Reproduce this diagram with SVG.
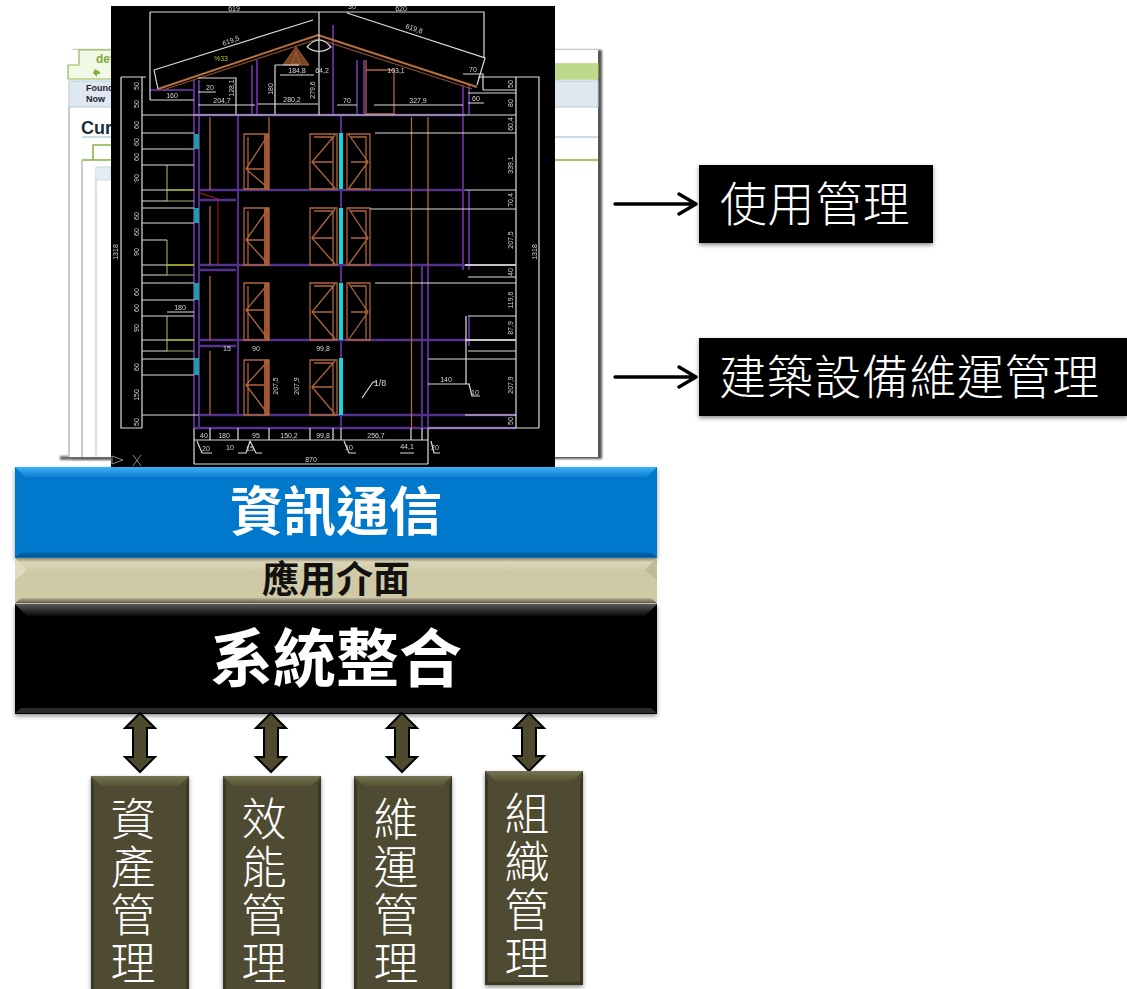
<svg xmlns="http://www.w3.org/2000/svg" width="1127" height="989" viewBox="0 0 1127 989">
<style>
text{font-family:"Noto Sans CJK TC","Noto Sans CJK SC",sans-serif}
.wl{font-size:47px;font-weight:300;fill:#fff;letter-spacing:.6px}
.vt{font-size:45px;font-weight:300;fill:#fff;writing-mode:vertical-rl;letter-spacing:3px}
.bt{font-weight:700;text-anchor:middle}
.d{font-family:"Liberation Sans",sans-serif;font-size:7px;fill:#d8d8d8;text-anchor:middle}
.wh{fill:none;stroke:#dcdcdc;stroke-width:1.2}
.pu{fill:none;stroke:#5c2a8e;stroke-width:2}
.br{fill:none;stroke:#b0653c;stroke-width:1.3}
.ye{fill:none;stroke:#a9a96a;stroke-width:1.1}
.arrow{fill:#4d4a2e;stroke:#000;stroke-width:2}
.arr2{fill:none;stroke:#000;stroke-width:3.4;stroke-linecap:round;stroke-linejoin:round}
.box{fill:#4f4c30}
.edge{fill:#3a3822}
.top{fill:url(#oT)}
</style>
<defs>
<filter id="sh" x="-5%" y="-5%" width="110%" height="112%"><feDropShadow dx="0" dy="2" stdDeviation="2" flood-color="#000" flood-opacity=".45"/></filter>
<filter id="bl" x="0" y="0" width="100%" height="100%"><feGaussianBlur stdDeviation=".4"/></filter>
<filter id="b2" x="-20%" y="-100%" width="140%" height="300%"><feGaussianBlur stdDeviation="1.2"/></filter>
<linearGradient id="bT" x1="0" y1="0" x2="0" y2="1"><stop offset="0" stop-color="#3fb0f5"/><stop offset="1" stop-color="#0f80d2"/></linearGradient>
<linearGradient id="bB" x1="0" y1="0" x2="0" y2="1"><stop offset="0" stop-color="#0670bd"/><stop offset="1" stop-color="#044e86"/></linearGradient>
<linearGradient id="tT" x1="0" y1="0" x2="0" y2="1"><stop offset="0" stop-color="#8f8a70"/><stop offset=".35" stop-color="#dcd6b8"/><stop offset="1" stop-color="#d2cca9"/></linearGradient>
<linearGradient id="tB" x1="0" y1="0" x2="0" y2="1"><stop offset="0" stop-color="#bab49a"/><stop offset="1" stop-color="#5f5b48"/></linearGradient>
<linearGradient id="kT" x1="0" y1="0" x2="0" y2="1"><stop offset="0" stop-color="#5a5a5a"/><stop offset="1" stop-color="#080808"/></linearGradient>
<linearGradient id="oT" x1="0" y1="0" x2="0" y2="1"><stop offset="0" stop-color="#777556"/><stop offset="1" stop-color="#55522f"/></linearGradient>
</defs>
<rect width="1127" height="989" fill="#fff"/>

<g id="screenshot">
<rect x="72" y="50" width="530" height="409" fill="#555" filter="url(#b2)"/>
<rect x="60" y="456" width="60" height="4" fill="#666" filter="url(#b2)"/>
<rect x="68" y="50" width="530" height="407" fill="#fff"/>
<path d="M68 79V65H79V50H150V64H598V79Z" fill="#f2f7e6" stroke="#8fbb4a" stroke-width="1.2"/>
<rect x="111" y="64" width="487" height="15" fill="#bcd98c"/>
<rect x="69" y="81" width="529" height="26" fill="#dfe7f0" stroke="#b4cbdc" stroke-width="1"/>
<path d="M95 69l5 3v2h-3v3l-4-4z" fill="#7fb13c"/>
<text x="86" y="91" font-size="9" font-weight="700" fill="#223" style="font-family:'Liberation Sans',sans-serif">Found</text>
<text x="86" y="102" font-size="9" font-weight="700" fill="#223" style="font-family:'Liberation Sans',sans-serif">Now</text>
<text x="96" y="63" font-size="12" font-weight="700" fill="#7fa83c" style="font-family:'Liberation Sans',sans-serif">det</text>
<text x="81" y="134" font-size="18" font-weight="700" fill="#1c2c3c" style="font-family:'Liberation Sans',sans-serif">Cur</text>
<path d="M82 137H598" stroke="#b9d0df" stroke-width="1.5"/>
<path d="M93 160V145H111M82 160H598" fill="none" stroke="#86b340" stroke-width="1.5"/>
<path d="M69 107V457M82 160V457" stroke="#bbb" stroke-width="1.5"/>
<path d="M96 167V457" stroke="#c5d8e6" stroke-width="1.5"/>
<path d="M96 167H111V180H96" fill="#e4ecf4" stroke="#c5d8e6"/>
</g>

<g id="blueprint" filter="url(#bl)">
<rect x="111" y="6" width="444" height="461" fill="#000"/>
<path class="pu" d="M194 80V428M199 80V428M238 115V415M257 60V115M252 65V115M333 25V115M341 115V428M357 60V115M364 60V115M463 85V270M469 85V115M469 190V270M469 316V346M422 265V428M428 265V428M150 90H194"/>
<path d="M195 115H465M199 190H465M199 200H236M199 265H465M199 270H236M199 340H470M199 346H236M199 415H516M195 428H516" fill="none" stroke="#52308e" stroke-width="2.4"/>
<path class="br" d="M210 117V190M210 206V265M210 276V340M210 351V415M269 117V133M411.500 117V428M428 117V265M366 60V114H394V70H366"/>
<path d="M158 89L318 35L477 87" fill="none" stroke="#b8703e" stroke-width="2"/>
<path d="M163 90L318 39L472 89" fill="none" stroke="#8a4c2a" stroke-width="1.2"/>
<path d="M283 65L296 47L309 65ZM292 64L296 52L300 64Z" fill="#7a4424" stroke="#a8603a" stroke-width="1"/>
<path class="wh" d="M307 47Q319 33 331 47Q319 56 307 47" stroke-width=".8"/>
<g id="win">
<path d="M264 134h5v55h-5zM264 208h5v57h-5zM264 283h5v57h-5zM264 360h5v55h-5z" fill="#a0552f"/>
<path class="br" d="M244 134H269V189H244ZM248 137V189M268 135L246 169L268 188M246 169H264M244 208H269V265H244ZM248 211V265M268 209L246 240L268 264M246 240H264M244 283H269V340H244ZM248 286V340M268 284L246 310L268 339M246 310H264M244 360H269V415H244ZM248 363V415M268 361L246 385L268 414M246 385H264"/>
<path class="br" d="M310 134H337V189H310ZM314 137H333V189M335 135L312 162L335 188M312 162H333M310 208H337V265H310ZM314 211H333V265M335 209L312 238L335 264M312 238H333M310 283H337V340H310ZM314 286H333V340M335 284L312 312L335 339M312 312H333M310 360H337V415H310ZM314 363H333V415M335 361L312 387L335 414M312 387H333"/>
<path class="br" d="M347 134H370V189H347ZM351 137H366V189M349 135L368 162L349 188M351 162H366M347 208H370V265H347ZM351 211H366V265M349 209L368 238L349 264M351 238H366M347 283H370V340H347ZM351 286H366V340M349 284L368 312L349 339M351 312H366"/>
</g>
<path d="M339 133h4v56h-4zM339 208h4v56h-4zM339 283h4v57h-4zM339 358h4v57h-4z" fill="#19d3e0"/>
<path d="M194 134h5v15h-5zM194 208h5v15h-5zM194 283h5v17h-5zM194 358h5v17h-5z" fill="#1f9ea3"/>
<path d="M167 190H194M167 265H194M167 340H194" stroke="#c8cc30" stroke-width="1.6"/>
<path class="ye" d="M167 165V201H194M167 240V275H194M167 316V351H194"/>
<path d="M200 193L218 199V265" fill="none" stroke="#b02020" stroke-width="1"/>
<path class="wh" d="M150 12H484V58M150 12V100M154 70L313 20M154 70L158 89M347 13L485 58L477 85M319 12V115M121 77H146M121 77V428H142M142 77V428M142 115H465M142 133H194M142 149H194M142 165H194M142 190H167M142 201H167M142 208H194M142 223H194M142 240H167M142 265H167M142 275H167M142 283H194M142 300H194M142 316H194M142 340H167M142 351H167M142 359H194M142 375H194M142 415H199M198 78H236V114M198 92H216M198 105H255M150 100H194M275 65V114M258 104H318M275 65H299M280 75H314M337 105H357M374 105H463M463 74H483V90M468 103H484M468 93H516M478 77H539V428M516 77V428M483 90H516M465 115H516M375 133H516M465 190H516M370 209H516M465 265H516M468 277H516M375 283H516M468 316H516M465 340H516M468 351H516M428 359H516M465 415H516M428 428H539M466 316V384M428 384H470M167 312H194M362 398L373 382H377M194 440H428M194 464H428M194 428V464M210 428V440M238 428V440M269 428V440M310 428V440M333 428V440M341 428V440M411 428V440M422 428V440M428 428V464M197 441L202 453H212M250 441L246 453H238M250 441L256 453H262M344 441L349 453H356M400 453H414M431 441L434 453H440M469 384L472 396H480"/>
<path d="M465 265H516M465 340H516" stroke="#c4c4c4" stroke-width="1.8"/>
<path d="M112 456L123 460L112 464ZM133 455L141 466M141 455L133 466" fill="none" stroke="#888" stroke-width="1"/>
<g class="dm">
<text class="d" x="234" y="11">619</text><text class="d" x="401" y="11">620</text><text class="d" x="352" y="9">30</text>
<text class="d" x="231" y="43" transform="rotate(-20 231 41)">619,5</text>
<text class="d" x="414" y="31" transform="rotate(20 414 29)">619,8</text>
<text class="d" x="221" y="61" style="fill:#a8c43a">%33</text>
<text class="d" x="172" y="98">160</text><text class="d" x="210" y="90">20</text><text class="d" x="222" y="103">204,7</text>
<text class="d" x="297" y="73">184,8</text><text class="d" x="322" y="73">64,2</text><text class="d" x="292" y="102">280,2</text>
<text class="d" x="347" y="103">70</text><text class="d" x="418" y="103">327,9</text><text class="d" x="473" y="72">70</text><text class="d" x="476" y="101">60</text><text class="d" x="396" y="73">103,1</text>
<text class="d" x="180" y="310">180</text><text class="d" x="446" y="382">140</text><text class="d" x="380" y="386" style="font-size:9px">1/8</text>
<text class="d" x="204" y="438">40</text><text class="d" x="224" y="438">180</text><text class="d" x="256" y="438">95</text><text class="d" x="289" y="438">150,2</text><text class="d" x="323" y="438">99,8</text><text class="d" x="376" y="438">256,7</text>
<text class="d" x="311" y="462">870</text><text class="d" x="206" y="451">20</text><text class="d" x="230" y="450">10</text><text class="d" x="250" y="451">15</text><text class="d" x="349" y="450">10</text><text class="d" x="407" y="449">44,1</text><text class="d" x="435" y="450">20</text><text class="d" x="475" y="395">10</text>
<text class="d" x="256" y="351">90</text><text class="d" x="323" y="351">99,8</text><text class="d" x="227" y="351">15</text>
<text class="d" transform="translate(273,89) rotate(-90)">180</text><text class="d" transform="translate(315,90) rotate(-90)">279,6</text><text class="d" transform="translate(234,88) rotate(-90)">128,1</text>
<text class="d" transform="translate(278,386) rotate(-90)">207,5</text><text class="d" transform="translate(299,386) rotate(-90)">207,9</text>
<text class="d" transform="translate(513,84) rotate(-90)">50</text><text class="d" transform="translate(513,103) rotate(-90)">80</text><text class="d" transform="translate(513,124) rotate(-90)">60,4</text><text class="d" transform="translate(513,165) rotate(-90)">339,1</text><text class="d" transform="translate(513,200) rotate(-90)">70,4</text><text class="d" transform="translate(513,240) rotate(-90)">207,5</text><text class="d" transform="translate(513,272) rotate(-90)">40</text><text class="d" transform="translate(513,300) rotate(-90)">119,6</text><text class="d" transform="translate(513,328) rotate(-90)">87,9</text><text class="d" transform="translate(513,385) rotate(-90)">207,9</text><text class="d" transform="translate(513,421) rotate(-90)">50</text>
<text class="d" transform="translate(537,252) rotate(-90)">1318</text><text class="d" transform="translate(118,252) rotate(-90)">1318</text>
<text class="d" transform="translate(139,86) rotate(-90)">50</text><text class="d" transform="translate(139,104) rotate(-90)">50</text><text class="d" transform="translate(139,125) rotate(-90)">60</text><text class="d" transform="translate(139,142) rotate(-90)">60</text><text class="d" transform="translate(139,157) rotate(-90)">60</text><text class="d" transform="translate(139,178) rotate(-90)">90</text><text class="d" transform="translate(139,216) rotate(-90)">60</text><text class="d" transform="translate(139,232) rotate(-90)">60</text><text class="d" transform="translate(139,252) rotate(-90)">90</text><text class="d" transform="translate(139,292) rotate(-90)">60</text><text class="d" transform="translate(139,308) rotate(-90)">60</text><text class="d" transform="translate(139,328) rotate(-90)">90</text><text class="d" transform="translate(139,367) rotate(-90)">60</text><text class="d" transform="translate(139,395) rotate(-90)">150</text><text class="d" transform="translate(139,422) rotate(-90)">50</text>
</g>
</g>

<g id="layer-ict">
<rect x="15" y="467" width="642" height="91" fill="#0678cc" filter="url(#sh)"/>
<path d="M15 467H657L647 477H25Z" fill="url(#bT)"/>
<path d="M15 557H657L650 552H22Z" fill="url(#bB)"/>
<text class="bt" x="336" y="531" font-size="53" fill="#fff">資訊通信</text>
</g>
<g id="layer-api">
<rect x="15" y="558" width="642" height="46" fill="#cfc9a5"/>
<path d="M15 558H657L645 570H27Z" fill="url(#tT)"/>
<path d="M15 558L27 570L15 580Z" fill="#e0dbc0"/><path d="M657 558L645 570L657 580Z" fill="#c0ba98"/>
<path d="M15 603H657L651 598H21Z" fill="url(#tB)"/>
<text class="bt" x="336" y="593" font-size="37" fill="#111">應用介面</text>
</g>
<g id="layer-integration">
<rect x="15" y="604" width="642" height="110" fill="#040404" filter="url(#sh)"/>
<path d="M15 604H657L645 616H27Z" fill="url(#kT)"/><path d="M15 713H657L651 708H21Z" fill="#2a2a2a"/>
<text class="bt" x="336" y="681" font-size="63" fill="#fff">系統整合</text>
</g>

<g id="connectors">
<path id="a1" class="arrow" d="M140 713L155 728H147V757H155L140 772L125 757H133V728H125Z"/>
<path class="arrow" d="M271 713L286 728H278V757H286L271 772L256 757H264V728H256Z"/>
<path class="arrow" d="M402 713L417 728H409V757H417L402 772L387 757H395V728H387Z"/>
<path class="arrow" d="M529 713L544 728H536V756H544L529 771L514 756H522V728H514Z"/>
<path class="arr2" d="M615 204H696M679 194L696 204L679 214M615 377H696M679 367L696 377L679 387"/>
</g>

<g id="asset"><rect class="box" x="91" y="776" width="98" height="214" filter="url(#sh)"/><path class="top" d="M91 776H189L179 786H101Z"/><path class="edge" d="M91 776L94 786V989H91ZM189 776L186 786V989H189Z"/>
<text class="vt" x="133" y="796">資產管理</text></g>
<g id="performance"><rect class="box" x="223" y="776" width="98" height="214" filter="url(#sh)"/><path class="top" d="M223 776H321L311 786H233Z"/><path class="edge" d="M223 776L226 786V989H223ZM321 776L318 786V989H321Z"/>
<text class="vt" x="264" y="796">效能管理</text></g>
<g id="maintenance"><rect class="box" x="354" y="776" width="98" height="214" filter="url(#sh)"/><path class="top" d="M354 776H452L442 786H364Z"/><path class="edge" d="M354 776L357 786V989H354ZM452 776L449 786V989H452Z"/>
<text class="vt" x="396" y="796">維運管理</text></g>
<g id="organization"><rect class="box" x="485" y="771" width="98" height="214" filter="url(#sh)"/><path class="top" d="M485 771H583L573 781H495Z"/><path class="edge" d="M485 771L488 781V982L485 985ZM583 771L580 781V982L583 985ZM485 985H583L580 982H488Z"/>
<text class="vt" x="527" y="791">組織管理</text></g>

<g id="usage"><rect x="699" y="165" width="234" height="78" fill="#000" filter="url(#sh)"/><text class="wl" x="720" y="221">使用管理</text></g>
<g id="facility"><rect x="699" y="338" width="428" height="78" fill="#000" filter="url(#sh)"/><text class="wl" x="719" y="394">建築設備維運管理</text></g>
</svg>
